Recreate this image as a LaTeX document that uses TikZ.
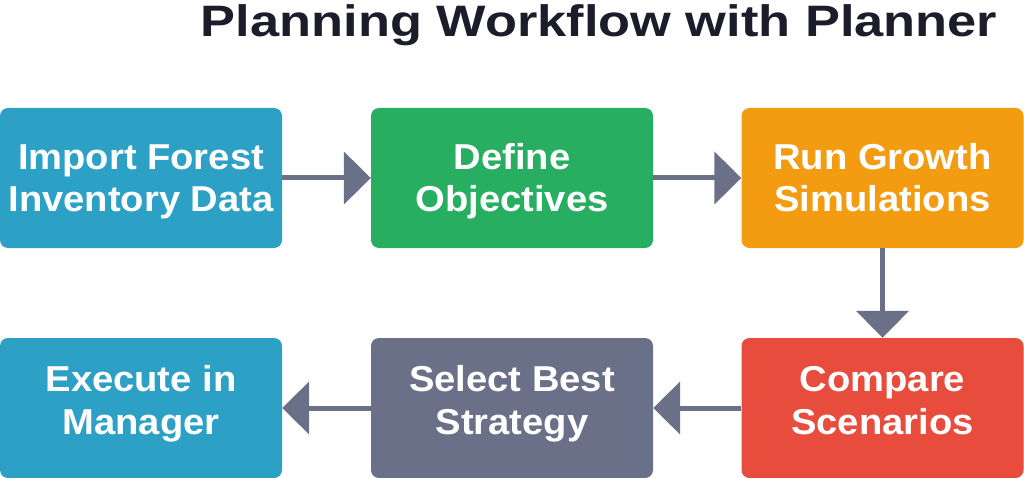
\documentclass[tikz,border=0pt]{standalone}
\usepackage{fontspec}
\setmainfont{Liberation Sans}[FakeStretch=1.06]
\newfontfamily\titlefont{Liberation Sans}[FakeStretch=1.19]
\usetikzlibrary{arrows.meta}
\definecolor{cblue}{HTML}{2DA0C6}
\definecolor{cgreen}{HTML}{27AE60}
\definecolor{corange}{HTML}{F39C12}
\definecolor{cred}{HTML}{E74C3C}
\definecolor{cslate}{HTML}{6B7089}
\definecolor{ctitle}{HTML}{1C1C2B}
\tikzset{
  stepbox/.style={rounded corners=8pt, minimum width=282pt, minimum height=140pt, inner sep=0pt,
    text=white, align=center, font=\fontsize{36}{43}\selectfont\bfseries,
    text height=68pt, text depth=0pt},
  lowrow/.style={text height=52pt},
  flow/.style={draw=cslate, line width=5pt, -{Triangle[length=27pt,width=52pt]}}
}
\begin{document}
\begin{tikzpicture}[x=1pt,y=-1pt]
\useasboundingbox (0,0) rectangle (1024,478);
\node[text=ctitle, anchor=base, inner sep=0pt, font=\titlefont\fontsize{44}{50}\selectfont\bfseries] (title) at (599,37) {Planning Workflow with Planner};
\node[stepbox, fill=cblue] (import) at (141,178) {Import Forest\\Inventory Data};
\node[stepbox, fill=cgreen] (define) at (512,178) {Define\\Objectives};
\node[stepbox, fill=corange] (run) at (882.5,178) {Run Growth\\Simulations};
\node[stepbox, lowrow, fill=cred] (compare) at (882.5,408) {Compare\\Scenarios};
\node[stepbox, lowrow, fill=cslate] (select) at (512,408) {Select Best\\Strategy};
\node[stepbox, lowrow, fill=cblue] (execute) at (141,408) {Execute in\\Manager};
\draw[flow] (import) -- (define);
\draw[flow] (define) -- (run);
\draw[flow] (run) -- (compare);
\draw[flow] (compare) -- (select);
\draw[flow] (select) -- (execute);
\end{tikzpicture}
\end{document}
